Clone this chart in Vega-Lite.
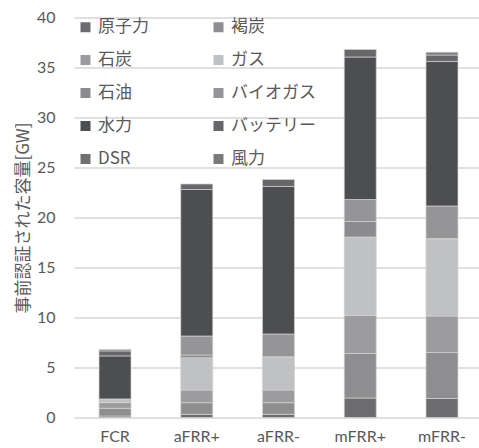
{
  "$schema": "https://vega.github.io/schema/vega-lite/v6.json",
  "width": 405,
  "height": 400,
  "autosize": {"type": "none"},
  "padding": {"left": 74, "top": 17.5, "right": 0, "bottom": 30.5},
  "background": "white",
  "config": {"view": {"stroke": null}},
  "data": {
    "values": [
      {"cat": "FCR", "s": "原子力", "v": 0.15},
      {"cat": "FCR", "s": "褐炭", "v": 0.77},
      {"cat": "FCR", "s": "石炭", "v": 0.57},
      {"cat": "FCR", "s": "ガス", "v": 0.37},
      {"cat": "FCR", "s": "水力", "v": 4.3},
      {"cat": "FCR", "s": "バッテリー", "v": 0.5},
      {"cat": "FCR", "s": "風力", "v": 0.15},
      {"cat": "aFRR+", "s": "原子力", "v": 0.32},
      {"cat": "aFRR+", "s": "褐炭", "v": 1.16},
      {"cat": "aFRR+", "s": "石炭", "v": 1.27},
      {"cat": "aFRR+", "s": "ガス", "v": 3.23},
      {"cat": "aFRR+", "s": "石油", "v": 0.27},
      {"cat": "aFRR+", "s": "バイオガス", "v": 1.9},
      {"cat": "aFRR+", "s": "水力", "v": 14.65},
      {"cat": "aFRR+", "s": "バッテリー", "v": 0.55},
      {"cat": "aFRR-", "s": "原子力", "v": 0.32},
      {"cat": "aFRR-", "s": "褐炭", "v": 1.16},
      {"cat": "aFRR-", "s": "石炭", "v": 1.27},
      {"cat": "aFRR-", "s": "ガス", "v": 3.25},
      {"cat": "aFRR-", "s": "石油", "v": 0.08},
      {"cat": "aFRR-", "s": "バイオガス", "v": 2.27},
      {"cat": "aFRR-", "s": "水力", "v": 14.75},
      {"cat": "aFRR-", "s": "バッテリー", "v": 0.7},
      {"cat": "mFRR+", "s": "原子力", "v": 1.95},
      {"cat": "mFRR+", "s": "褐炭", "v": 4.45},
      {"cat": "mFRR+", "s": "石炭", "v": 3.8},
      {"cat": "mFRR+", "s": "ガス", "v": 7.85},
      {"cat": "mFRR+", "s": "石油", "v": 1.55},
      {"cat": "mFRR+", "s": "バイオガス", "v": 2.2},
      {"cat": "mFRR+", "s": "水力", "v": 14.25},
      {"cat": "mFRR+", "s": "バッテリー", "v": 0.75},
      {"cat": "mFRR-", "s": "原子力", "v": 1.9},
      {"cat": "mFRR-", "s": "褐炭", "v": 4.6},
      {"cat": "mFRR-", "s": "石炭", "v": 3.65},
      {"cat": "mFRR-", "s": "ガス", "v": 7.65},
      {"cat": "mFRR-", "s": "石油", "v": 0.1},
      {"cat": "mFRR-", "s": "バイオガス", "v": 3.25},
      {"cat": "mFRR-", "s": "水力", "v": 14.45},
      {"cat": "mFRR-", "s": "バッテリー", "v": 0.65},
      {"cat": "mFRR-", "s": "風力", "v": 0.27}
    ]
  },
  "transform": [
    {"calculate": "indexof(['原子力','褐炭','石炭','ガス','石油','バイオガス','水力','バッテリー','DSR','風力'], datum.s)", "as": "o"}
  ],
  "mark": {"type": "bar", "stroke": "#d2d2d2", "strokeWidth": 0.7},
  "encoding": {
    "x": {
      "field": "cat",
      "type": "nominal",
      "sort": ["FCR", "aFRR+", "aFRR-", "mFRR+", "mFRR-"],
      "scale": {"range": [0, 409], "paddingInner": 0.6086, "paddingOuter": 0.306},
      "axis": {
        "title": null,
        "labelAngle": 0,
        "domain": false,
        "ticks": false,
        "labelPadding": 11,
        "labelFont": "Lato",
        "labelFontSize": 16,
        "labelColor": "#595959"
      }
    },
    "y": {
      "field": "v",
      "type": "quantitative",
      "stack": "zero",
      "scale": {"domain": [0, 40], "nice": false},
      "axis": {
        "title": "事前認証された容量[GW]",
        "titleFont": "Noto Sans CJK JP",
        "titleFontSize": 17,
        "titleFontWeight": "normal",
        "titleColor": "#595959",
        "titlePadding": 4,
        "values": [0, 5, 10, 15, 20, 25, 30, 35, 40],
        "domain": false,
        "ticks": false,
        "labelPadding": 19,
        "labelFont": "Lato",
        "labelFontSize": 16,
        "labelColor": "#595959",
        "gridColor": "#d6d6d6",
        "gridWidth": 1.5
      }
    },
    "order": {"field": "o", "type": "quantitative", "sort": "ascending"},
    "color": {
      "field": "s",
      "type": "nominal",
      "scale": {
        "domain": ["原子力", "褐炭", "石炭", "ガス", "石油", "バイオガス", "水力", "バッテリー", "DSR", "風力"],
        "range": ["#6c6c6e", "#8e8e90", "#9c9c9e", "#c0c1c3", "#8b8b8d", "#959597", "#4d4e50", "#67676a", "#707072", "#7a7a7c"]
      },
      "legend": {
        "title": null,
        "orient": "none",
        "legendX": 3,
        "legendY": 1,
        "columns": 2,
        "values": ["原子力", "石炭", "石油", "水力", "DSR", "褐炭", "ガス", "バイオガス", "バッテリー", "風力"],
        "padding": 0,
        "symbolType": "square",
        "symbolSize": 100,
        "symbolStrokeWidth": 0,
        "symbolOpacity": 1,
        "labelFont": "Noto Sans CJK JP",
        "labelFontSize": 17,
        "labelColor": "#595959",
        "labelOffset": 4,
        "rowPadding": 15,
        "columnPadding": 61
      }
    }
  }
}
